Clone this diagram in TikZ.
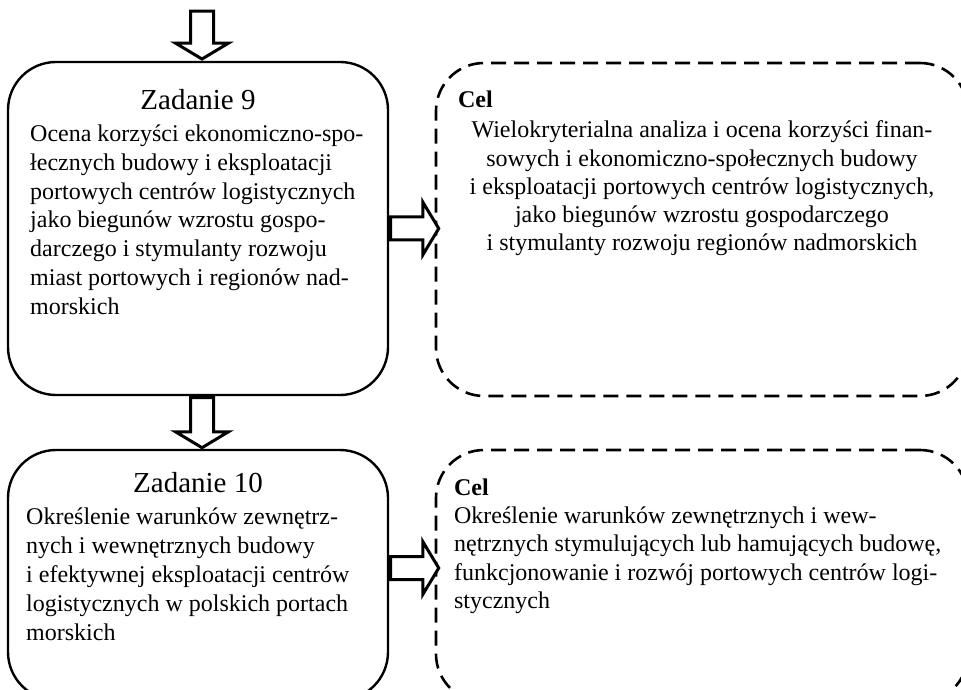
\documentclass[tikz,border=0pt]{standalone}
\usepackage{fontspec}
\setmainfont{Liberation Serif}
\usetikzlibrary{positioning,shapes.arrows}

\begin{document}
\begin{tikzpicture}[x=0.5pt,y=-0.5pt]
\tikzset{zad/.style={draw, line width=1.2pt, rounded corners=24pt, minimum width=190pt}}
\tikzset{cel/.style={draw, line width=1.3pt, dash pattern=on 7.5pt off 4pt, rounded corners=24pt, minimum width=266pt}}
\tikzset{blk/.style={draw, single arrow, line width=1.5pt, fill=white, inner sep=5pt, minimum width=25pt, single arrow head extend=7.5pt, single arrow tip angle=118}}
\tikzset{tytul/.style={font=\fontsize{14.5}{17}\selectfont, inner sep=0pt}}
\tikzset{tresc/.style={font=\fontsize{12}{#1}\selectfont, inner sep=0pt, align=left}, tresc/.default=14.1}

\useasboundingbox (0,0) rectangle (961,689);

% boxes
\node [zad, minimum height=166.5pt] (z9) at (198,228.5) {};
\node [zad, minimum height=125pt] (z10) at (198,575) {};
\node [cel, minimum height=166.5pt] (c9) at (702,229.5) {};
\node [cel, minimum height=126pt] (c10) at (702,576) {};

% texts
\node [tytul, below=14pt of z9.north] (t9) {Zadanie 9};
\node [tresc=14.35, below right=32pt and 11.5pt of z9.north west] (o9) {Ocena korzyści ekonomiczno-spo-\\
łecznych budowy i eksploatacji\\
portowych centrów logistycznych\\
jako biegunów wzrostu gospo-\\
darczego i stymulanty rozwoju\\
miast portowych i regionów nad-\\
morskich};
\node [tytul, below=11.5pt of z10.north] (t10) {Zadanie 10};
\node [tresc=14.4, below right=29.5pt and 9.5pt of z10.north west] (o10) {Określenie warunków zewnętrz-\\
nych i wewnętrznych budowy\\
i efektywnej eksploatacji centrów\\
logistycznych w polskich portach\\
morskich};
\node [tresc, below right=14.5pt and 11.5pt of c9.north west] (k9) {\textbf{Cel}};
\node [tresc, align=center, below=29.5pt of c9.north] (p9) {Wielokryterialna analiza i ocena korzyści finan-\\
sowych i ekonomiczno-społecznych budowy\\
i eksploatacji portowych centrów logistycznych,\\
jako biegunów wzrostu gospodarczego\\
i stymulanty rozwoju regionów nadmorskich};
\node [tresc, below right=15pt and 9.5pt of c10.north west] (k10) {\textbf{Cel}};
\node [tresc, below right=29pt and 9.5pt of c10.north west] (p10) {Określenie warunków zewnętrznych i wew-\\
nętrznych stymulujących lub hamujących budowę,\\
funkcjonowanie i rozwój portowych centrów logi-\\
stycznych};

% arrows
\node [blk, minimum height=24pt, rotate=-90, anchor=tip] (s0) at ([xshift=2pt]z9.north) {};
\node [blk, minimum height=25pt, rotate=-90, anchor=tail] (s9) at ([xshift=2pt]z9.south) {};
\node [blk, minimum height=24pt, anchor=tail] (r9) at (z9.east) {};
\node [blk, minimum height=24pt, anchor=tail] (r10) at ([yshift=3.5pt]z10.east) {};

\end{tikzpicture}
\end{document}
